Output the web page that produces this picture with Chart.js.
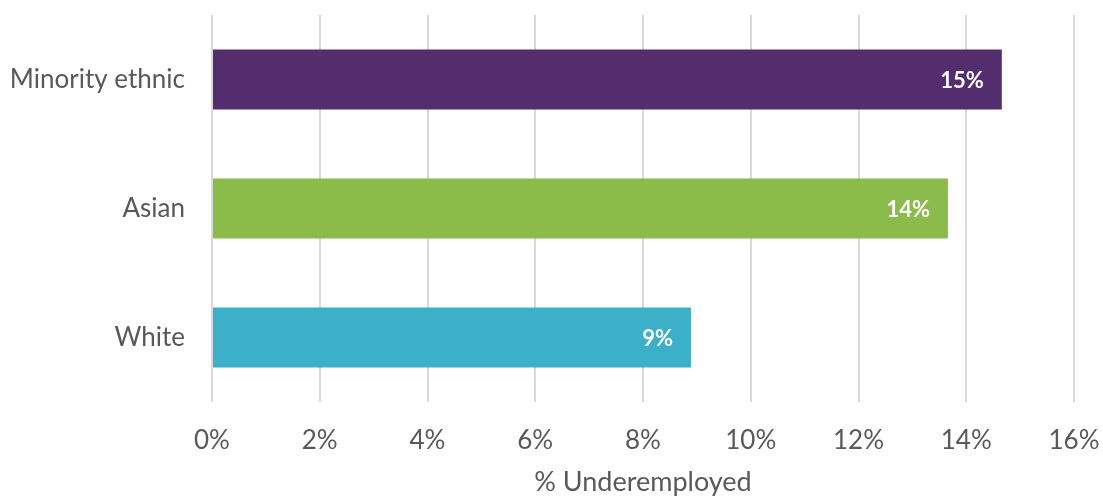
<!DOCTYPE html>
<html>
<head>
<meta charset="utf-8">
<script src="https://cdn.jsdelivr.net/npm/chart.js@4.4.1/dist/chart.umd.min.js"></script>
<style>
  html, body { margin: 0; padding: 0; background: #ffffff; }
  #wrap { width: 1103px; height: 496px; position: relative; }
</style>
</head>
<body>
<div id="wrap"><canvas id="chart"></canvas></div>
<script>
// Share of each group that is underemployed (%)
const categories = ['Minority ethnic', 'Asian', 'White'];
const underemployed = [14.66, 13.66, 8.89];
const barColors = ['#532D6D', '#8BBC4B', '#3CB0C9'];
const xTicks = [0, 2, 4, 6, 8, 10, 12, 14, 16];
const axisTitle = '% Underemployed';

const FONT = 'Lato, "Open Sans", sans-serif';
const TEXT = '#595959';

// Writes each bar's rounded value inside its right end
const valueLabels = {
  id: 'valueLabels',
  afterDatasetsDraw(chart) {
    const ctx = chart.ctx;
    const meta = chart.getDatasetMeta(0);
    ctx.save();
    ctx.font = 'bold 22px ' + FONT;
    ctx.fillStyle = '#ffffff';
    ctx.textAlign = 'right';
    ctx.textBaseline = 'middle';
    meta.data.forEach((bar, i) => {
      const v = chart.data.datasets[0].data[i];
      ctx.fillText(Math.round(v) + '%', bar.x - 18, bar.y + 1);
    });
    ctx.restore();
  }
};

new Chart(document.getElementById('chart'), {
  type: 'bar',
  data: {
    labels: categories,
    datasets: [{
      data: underemployed,
      backgroundColor: barColors,
      borderWidth: 0,
      barPercentage: 0.465,
      categoryPercentage: 1
    }]
  },
  options: {
    indexAxis: 'y',
    responsive: true,
    maintainAspectRatio: false,
    animation: false,
    layout: { padding: { top: 15, right: 29, bottom: 0, left: 0 } },
    plugins: {
      legend: { display: false },
      tooltip: { enabled: false }
    },
    scales: {
      x: {
        min: 0,
        max: 16,
        afterBuildTicks(scale) {
          scale.ticks = xTicks.map(v => ({ value: v }));
        },
        afterFit(scale) {
          scale.height = 94;
          scale.paddingLeft = 0;
          scale.paddingRight = 0;
        },
        grid: { color: '#d9d9d9', lineWidth: 2, drawTicks: false },
        border: { display: false },
        ticks: {
          padding: 23,
          color: TEXT,
          font: { family: FONT, size: 26 },
          callback: v => v + '%'
        },
        title: {
          display: true,
          text: axisTitle,
          color: TEXT,
          font: { family: FONT, size: 27 },
          padding: { top: 4, bottom: -2 }
        }
      },
      y: {
        afterFit(scale) {
          scale.width = 212;
          scale.paddingTop = 0;
          scale.paddingBottom = 0;
        },
        grid: { display: false, drawTicks: false },
        border: { display: false },
        ticks: {
          padding: 27,
          color: TEXT,
          font: { family: FONT, size: 26 }
        }
      }
    }
  },
  plugins: [valueLabels]
});
</script>
</body>
</html>
